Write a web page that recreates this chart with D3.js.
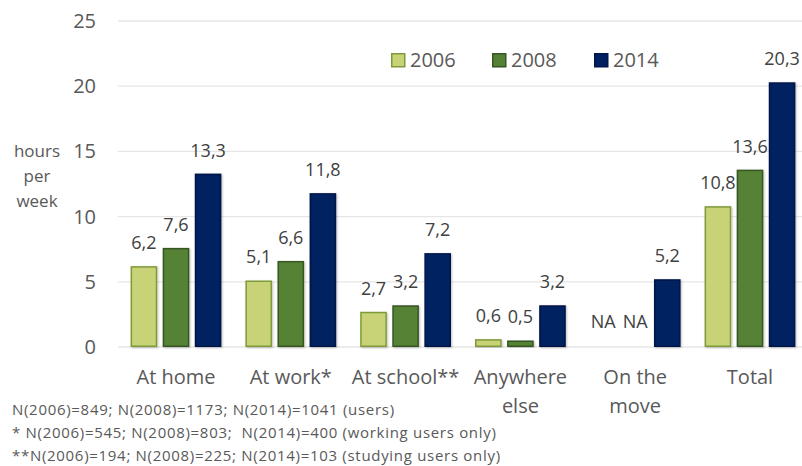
<!DOCTYPE html>
<html>
<head>
<meta charset="utf-8">
<script src="https://cdn.jsdelivr.net/npm/d3@7"></script>
<style>
  html, body { margin: 0; padding: 0; background: #fff; }
  svg { display: block; font-family: "Open Sans", "Noto Sans", sans-serif; }
</style>
</head>
<body>
<svg id="chart" width="802" height="466"></svg>
<script>
// Hours per week of use, by place and survey year
const categories = [["At home"], ["At work*"], ["At school**"], ["Anywhere", "else"], ["On the", "move"], ["Total"]];
const years = ["2006", "2008", "2014"];
const values2006 = [6.2, 5.1, 2.7, 0.6, null, 10.8];
const values2008 = [7.6, 6.6, 3.2, 0.5, null, 13.6];
const values2014 = [13.3, 11.8, 7.2, 3.2, 5.2, 20.3];
const yTicks = [0, 5, 10, 15, 20, 25];
const footnotes = [
  "N(2006)=849; N(2008)=1173; N(2014)=1041 (users)",
  "* N(2006)=545; N(2008)=803;  N(2014)=400 (working users only)",
  "**N(2006)=194; N(2008)=225; N(2014)=103 (studying users only)"
];

const fills = ["#c8d377", "#548235", "#002060"];
const strokes = ["#7f9a3a", "#375623", "#00174a"];
const seriesValues = [values2006, values2008, values2014];

const svg = d3.select("#chart");
const catKeys = categories.map(c => c.join(" "));

const x0 = d3.scaleBand().domain(catKeys).range([118.6, 807.4]).paddingInner(0).paddingOuter(0);
const x1 = d3.scaleBand().domain(years).range([12, x0.bandwidth() - 12]).paddingInner(0.17).paddingOuter(0);
const y = d3.scaleLinear().domain([0, 25]).range([347, 21]);

// gridlines
svg.append("g").selectAll("line").data(yTicks).join("line")
  .attr("x1", 118).attr("x2", 802)
  .attr("y1", d => y(d)).attr("y2", d => y(d))
  .attr("stroke", "#e6e6e6").attr("stroke-width", 1.3);

// y axis tick labels
const yAxis = d3.axisLeft(y).tickValues(yTicks).tickSize(0).tickPadding(0).tickFormat(d3.format("d"));
const yg = svg.append("g").attr("transform", "translate(96,0)").call(yAxis);
yg.select(".domain").remove();
yg.selectAll("text").attr("font-size", 20).attr("fill", "#595959")
  .attr("font-family", "'Open Sans', sans-serif");

// y axis title
const ytitle = svg.append("text").attr("fill", "#595959").attr("font-size", 17).attr("text-anchor", "middle");
["hours", "per", "week"].forEach((t, i) => {
  ytitle.append("tspan").attr("x", 37).attr("y", 157 + i * 25).text(t);
});

// drop shadow for bars
const defs = svg.append("defs");
const f = defs.append("filter").attr("id", "shadow").attr("x", "-20%").attr("y", "-20%").attr("width", "140%").attr("height", "140%");
f.append("feDropShadow").attr("dx", 1).attr("dy", 1).attr("stdDeviation", 1.2).attr("flood-color", "#000").attr("flood-opacity", 0.25);

// bars
const groups = svg.append("g").selectAll("g").data(catKeys).join("g")
  .attr("transform", d => `translate(${x0(d)},0)`);

groups.each(function(cat, ci) {
  const g = d3.select(this);
  years.forEach((yr, si) => {
    const v = seriesValues[si][ci];
    const bx = x1(yr);
    const bw = x1.bandwidth();
    if (v != null) {
      g.append("rect")
        .attr("x", bx + 0.75).attr("width", bw - 1.5)
        .attr("y", y(v) + 0.75).attr("height", y(0) - y(v) - 1.5)
        .attr("fill", fills[si]).attr("stroke", strokes[si]).attr("stroke-width", 1.5)
        .attr("filter", "url(#shadow)");
    }
    g.append("text")
      .attr("x", bx + bw / 2)
      .attr("y", v != null ? y(v) - 17 : y(0) - 19)
      .attr("text-anchor", "middle")
      .attr("font-size", 18).attr("fill", "#404040")
      .text(v != null ? d3.format(".1f")(v).replace(".", ",") : "NA");
  });
});

// category labels
categories.forEach((lines, ci) => {
  const t = svg.append("text").attr("text-anchor", "middle").attr("font-size", 20).attr("fill", "#595959");
  lines.forEach((ln, li) => {
    t.append("tspan").attr("x", x0(catKeys[ci]) + x0.bandwidth() / 2).attr("y", 384 + li * 29).text(ln);
  });
});

// legend
const legendX = [391, 492, 594];
years.forEach((yr, si) => {
  svg.append("rect").attr("x", legendX[si] + 0.75).attr("y", 53.75).attr("width", 13).attr("height", 13)
    .attr("fill", fills[si]).attr("stroke", strokes[si]).attr("stroke-width", 1.5);
  svg.append("text").attr("x", legendX[si] + 19).attr("y", 67)
    .attr("font-size", 20).attr("fill", "#595959").text(yr);
});

// footnotes
footnotes.forEach((t, i) => {
  svg.append("text").attr("x", 12).attr("y", 415 + i * 23)
    .attr("font-size", 15).attr("letter-spacing", 0.7).attr("fill", "#595959").style("white-space", "pre").text(t);
});
</script>
</body>
</html>
